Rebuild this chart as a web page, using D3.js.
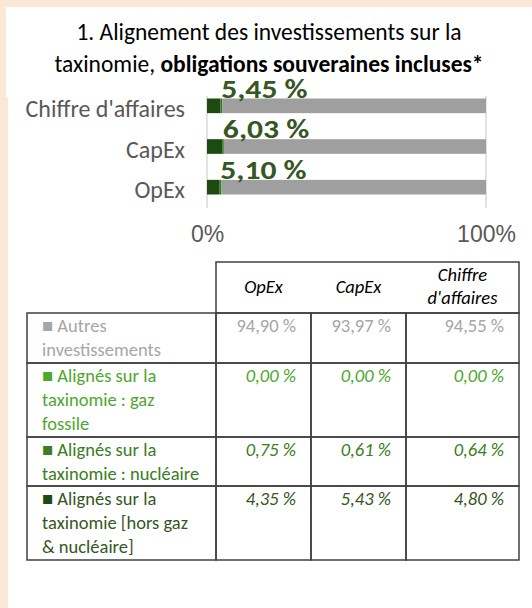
<!DOCTYPE html>
<html>
<head>
<meta charset="utf-8">
<script src="https://cdn.jsdelivr.net/npm/d3@7"></script>
<style>
  body { margin: 0; background: #fbe8d7; }
  svg { display: block; font-family: Carlito, Calibri, Lato, sans-serif; }
</style>
</head>
<body>
<div id="chart"></div>
<script>
// données
var categories = ["Chiffre d'affaires", "CapEx", "OpEx"];
var horsGaz    = [4.80, 5.43, 4.35];
var nucleaire  = [0.64, 0.61, 0.75];
var gazFossile = [0.00, 0.00, 0.00];
var autres     = [94.55, 93.97, 94.90];
var totalLabels = ["5,45 %", "6,03 %", "5,10 %"];
var xTicks = [0, 100];

var tableCols = ["OpEx", "CapEx", "Chiffre d'affaires"];
var tableRows = [
  ["■ Autres", "investissements"],
  ["■ Alignés sur la", "taxinomie : gaz", "fossile"],
  ["■ Alignés sur la", "taxinomie : nucléaire"],
  ["■ Alignés sur la", "taxinomie [hors gaz", "& nucléaire]"]
];

var W = 532, H = 608;
var svg = d3.select("#chart").append("svg")
  .attr("width", W).attr("height", H);

svg.append("rect").attr("width", W).attr("height", H).attr("fill", "#fbe8d7");
svg.append("rect").attr("x", 6).attr("y", 7).attr("width", W - 6).attr("height", H - 7).attr("fill", "#fff");
svg.append("rect").attr("x", 6).attr("y", 97).attr("width", 2).attr("height", H - 97).attr("fill", "#fbe8d7");

// titre
var title = svg.append("text").attr("text-anchor", "middle").attr("font-size", 23.5).attr("fill", "#000");
title.append("tspan").attr("x", 269).attr("y", 40).text("1. Alignement des investissements sur la");
var t2 = title.append("tspan").attr("x", 269).attr("y", 72);
t2.append("tspan").text("taxinomie, ");
t2.append("tspan").attr("font-weight", "bold").text("obligations souveraines incluses*");

// graphique
var xScale = d3.scaleLinear().domain([0, 100]).range([207, 486]);
var yScale = d3.scaleBand().domain(categories).range([98.5, 194.5]).paddingInner(0.64).paddingOuter(0);

svg.selectAll(".grid").data(xTicks).enter().append("line")
  .attr("x1", function(d) { return xScale(d); })
  .attr("x2", function(d) { return xScale(d); })
  .attr("y1", 96).attr("y2", 208)
  .attr("stroke", "#d9d9d9").attr("stroke-width", 1.5);

var rows = categories.map(function(c, i) {
  return { cat: c, horsGaz: horsGaz[i], nucleaire: nucleaire[i], gaz: gazFossile[i], autres: autres[i] };
});
var keys = ["horsGaz", "nucleaire", "gaz", "autres"];
var colors = { horsGaz: "#1d4a12", nucleaire: "#2f7d1f", gaz: "#4ea72e", autres: "#9f9f9f" };
var stacked = d3.stack().keys(keys)(rows);

svg.selectAll(".serie").data(stacked).enter().append("g")
  .attr("fill", function(d) { return colors[d.key]; })
  .selectAll("rect").data(function(d) { return d; }).enter().append("rect")
    .attr("x", function(d) { return xScale(d[0]); })
    .attr("y", function(d) { return yScale(d.data.cat); })
    .attr("width", function(d) { return xScale(d[1]) - xScale(d[0]); })
    .attr("height", yScale.bandwidth());

// étiquettes (un peu étirées en largeur comme dans l'original)
svg.selectAll(".lbl").data(rows).enter().append("text")
  .attr("transform", function(d) {
    return "translate(" + (xScale(d.horsGaz + d.nucleaire + d.gaz) - 1) + "," + (yScale(d.cat) - 1) + ") scale(1.24,1)";
  })
  .attr("font-size", 25.5).attr("font-weight", "bold").attr("fill", "#375623")
  .text(function(d, i) { return totalLabels[i]; });

svg.selectAll(".cat").data(categories).enter().append("text")
  .attr("x", 185)
  .attr("y", function(d) { return yScale(d) + yScale.bandwidth() / 2 + 11; })
  .attr("text-anchor", "end").attr("font-size", 24).attr("fill", "#595959")
  .text(function(d) { return d; });

var xAxis = svg.append("g").attr("transform", "translate(0,208)")
  .call(d3.axisBottom(xScale).tickValues(xTicks).tickSize(0).tickPadding(0)
    .tickFormat(function(d) { return d + "%"; }));
xAxis.select(".domain").remove();
xAxis.selectAll("text").attr("dy", null).attr("y", 34)
  .attr("font-size", 23).attr("fill", "#595959").attr("font-family", null);

// tableau
var colX = [27, 216, 311, 406, 519];
var rowY = [262, 313, 363, 437, 486, 560];
var rowColors = ["#a6a6a6", "#4ea72e", "#3a7d22", "#1d4a12"];
var textColors = ["#a6a6a6", "#4ea72e", "#3a7d22", "#375623"];
var series = [autres, gazFossile, nucleaire, horsGaz];
var colIndex = tableCols.map(function(c) { return categories.indexOf(c); });
var fmt = function(v) { return d3.format(".2f")(v).replace(".", ",") + " %"; };
var stroke = "#404040";

var tbl = svg.append("g").attr("font-size", 18.5);

// en-tête
tbl.append("rect").attr("x", colX[1]).attr("y", rowY[0])
  .attr("width", colX[4] - colX[1]).attr("height", rowY[1] - rowY[0])
  .attr("fill", "none").attr("stroke", stroke).attr("stroke-width", 1.5);
tableCols.forEach(function(c, j) {
  var cx = (colX[j + 1] + colX[j + 2]) / 2;
  var t = tbl.append("text").attr("text-anchor", "middle").attr("font-style", "italic").attr("fill", "#000");
  if (c === "Chiffre d'affaires") {
    t.append("tspan").attr("x", cx).attr("y", rowY[0] + 19).text("Chiffre");
    t.append("tspan").attr("x", cx).attr("y", rowY[0] + 42).text("d'affaires");
  } else {
    t.attr("x", cx).attr("y", rowY[0] + 31).text(c);
  }
});

// lignes
tableRows.forEach(function(lines, r) {
  var y0 = rowY[r + 1], y1 = rowY[r + 2];
  for (var j = 0; j < 4; j++) {
    tbl.append("rect").attr("x", colX[j]).attr("y", y0)
      .attr("width", colX[j + 1] - colX[j]).attr("height", y1 - y0)
      .attr("fill", "none").attr("stroke", stroke).attr("stroke-width", 1.5);
  }
  var t = tbl.append("text").attr("fill", textColors[r]);
  lines.forEach(function(l, k) {
    var ts = t.append("tspan").attr("x", colX[0] + 15).attr("y", y0 + 19 + k * 24);
    if (k === 0) {
      ts.append("tspan").attr("fill", rowColors[r]).text(l.slice(0, 1));
      ts.append("tspan").text(l.slice(1));
    } else {
      ts.text(l);
    }
  });
  colIndex.forEach(function(ci, j) {
    tbl.append("text")
      .attr("x", colX[j + 2] - 15).attr("y", y0 + 19)
      .attr("text-anchor", "end")
      .attr("font-style", r === 0 ? "normal" : "italic")
      .attr("fill", textColors[r])
      .text(fmt(series[r][ci]));
  });
});
</script>
</body>
</html>
